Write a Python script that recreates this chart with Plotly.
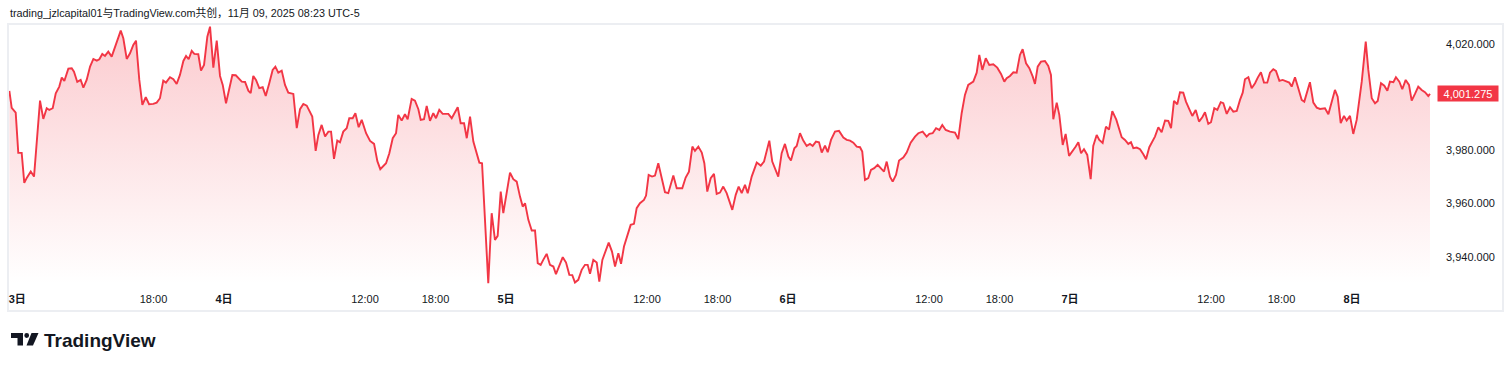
import plotly.graph_objects as go

# ---------------- data (hours since 2025-11-03 00:00 UTC-5, price) ----------------
hours = [
    5.73, 5.93, 6.27, 6.49, 6.78, 7.00, 7.21, 7.55, 7.83, 8.11,
    8.34, 8.62, 8.91, 9.13, 9.42, 9.68, 9.98, 10.19, 10.41, 10.75,
    11.04, 11.23, 11.51, 11.80, 12.03, 12.31, 12.60, 12.88, 13.17, 13.39,
    13.64, 13.87, 14.15, 14.44, 14.72, 15.00, 15.21, 15.43, 15.72, 16.00,
    16.28, 16.51, 16.79, 17.05, 17.34, 17.62, 17.98, 18.27, 18.55, 18.83,
    19.06, 19.40, 19.69, 19.97, 20.25, 20.54, 20.77, 20.99, 21.25, 21.47,
    21.81, 22.04, 22.30, 22.58, 22.81, 23.09, 23.38, 23.66, 23.89, 24.17,
    24.45, 24.71, 25.00, 25.22, 25.51, 25.79, 26.07, 26.27, 26.49, 26.72,
    27.00, 27.29, 27.55, 27.85, 28.14, 28.37, 28.62, 28.91, 29.19, 29.47,
    29.90, 30.19, 30.47, 30.75, 31.04, 31.51, 31.80, 32.03, 32.31, 32.60,
    32.88, 33.11, 33.36, 33.64, 33.87, 34.15, 34.44, 34.66, 34.95, 35.18,
    35.46, 35.72, 36.09, 36.43, 36.77, 37.05, 37.30,
    37.79, 38.07, 38.36,
    38.64, 38.83, 39.12, 39.40, 39.63, 39.97, 40.25, 40.54, 40.74, 41.02,
    41.25, 41.53, 41.81, 42.04, 42.32, 42.61, 43.09, 43.38, 43.60, 43.89,
    44.14, 44.43, 44.66, 44.94, 45.22, 45.51, 45.73, 45.96, 46.49, 46.78,
    47.06, 47.29, 47.55, 47.77, 48.06, 48.34, 48.62, 48.91, 49.19, 49.42,
    49.62, 49.90, 50.19, 50.47, 50.70, 50.95, 51.17, 51.46, 51.74, 52.03,
    52.25, 52.54, 52.83, 53.11, 53.39, 53.64, 53.87, 54.15, 54.44, 54.72,
    54.95, 55.15, 55.43, 55.72, 55.94, 56.20, 56.51, 56.74, 57.02, 57.28,
    57.56, 57.79, 58.04, 58.32, 58.61, 58.89, 59.12, 59.40, 59.74, 59.92,
    60.14, 60.43, 60.68, 60.96, 61.25, 61.53, 61.81, 62.24, 62.53, 63.00,
    63.29, 63.57, 63.86, 64.08, 64.37, 64.66, 64.88, 65.13, 65.42, 65.70,
    65.93, 66.21, 66.49, 66.78, 67.26, 67.55, 67.80, 68.06, 68.34, 68.57,
    68.91, 69.34, 69.68, 69.96, 70.41, 70.66, 71.17, 71.46, 71.74, 72.03,
    72.25, 72.54, 72.74, 73.02, 73.30, 73.59, 73.87, 74.10, 74.38, 74.64,
    74.87, 75.15, 75.38, 75.66, 76.00, 76.34, 76.71, 77.00, 77.28, 77.56,
    77.85, 78.13, 78.32, 78.55, 78.83, 79.06, 79.34, 79.63, 79.97, 80.17,
    80.40, 80.68, 80.91, 81.19, 81.45, 81.81, 82.10, 82.44, 82.81, 83.09,
    83.46, 83.80, 84.03, 84.31, 84.60, 84.88, 85.13, 85.42, 85.79, 86.21,
    86.49, 86.78, 87.06, 87.34, 87.77, 88.06, 88.28, 88.54, 88.83, 89.13,
    89.47, 89.81, 90.13, 90.41, 90.61, 90.89, 91.18, 91.46, 91.74, 91.97,
    92.26, 92.54, 92.83, 93.02, 93.25, 93.53, 93.87, 94.15, 94.38, 94.58,
    94.87, 95.09, 95.38, 95.63, 95.92, 96.20, 96.49, 96.71, 96.94, 97.19,
    97.47, 97.76, 97.98, 98.27, 98.49, 98.78, 99.06, 99.32, 99.60, 99.94,
    100.40, 100.68, 100.96, 101.19, 101.39, 101.68, 101.96, 102.24, 102.47, 102.75,
    103.04, 103.23, 103.52, 103.80, 104.09, 104.37, 104.60, 104.85, 105.13, 105.36,
    105.64, 105.87, 106.15, 106.41, 106.70, 106.98, 107.26, 107.49, 107.77, 108.00,
    108.28, 108.54, 108.83, 109.05, 109.34, 109.62, 109.90, 110.19, 110.47, 110.70,
    110.89, 111.18, 111.46, 111.75, 111.98, 112.25, 112.51, 112.79, 113.02, 113.30,
    113.53, 113.82, 114.10, 114.38, 114.66, 114.87, 115.15, 115.43, 115.72, 115.94,
    116.20, 116.42, 116.71, 117.00, 117.28, 117.70, 117.99, 118.27, 118.55, 118.78,
    119.04, 119.32, 119.55, 119.83, 120.11, 120.40, 120.83, 121.17, 121.39, 121.68,
    121.96, 122.19, 122.47, 122.75, 123.01, 123.23, 123.52, 123.74, 124.03, 124.28,
    124.57, 124.85, 125.08, 125.36, 125.64, 125.93, 126.21, 126.49, 126.64,
]

prices = [
    4002.35, 3995.97, 3994.2, 3979.06, 3979.06, 3967.8, 3969.67, 3972.04, 3970.16, 3987.7,
    3998.71, 3991.83, 3995.85, 3995.21, 3995.85, 4001.49, 4003.97, 4007.35, 4006.11, 4010.73,
    4010.88, 4009.6, 4005.73, 4006.48, 4003.59, 4006.48, 4011.48, 4014.37, 4013.73, 4014.26,
    4016.25, 4015.5, 4017.11, 4015.23, 4018.99, 4022.75, 4025.0, 4022.14, 4014.37, 4016.51,
    4019.63, 4021.24, 4006.48, 3997.09, 3999.98, 3997.35, 3997.47, 3997.96, 3999.61, 4006.22,
    4005.47, 4007.5, 4006.74, 4004.98, 4008.36, 4013.62, 4015.5, 4014.26, 4017.37, 4016.25,
    4016.13, 4009.98, 4012.12, 4022.75, 4026.5, 4011.1, 4021.24, 4007.98, 4004.6, 3997.73,
    4003.97, 4008.36, 4008.25, 4007.12, 4005.84, 4005.73, 4002.46, 4001.49, 4007.98, 4006.48,
    4003.37, 4003.74, 4000.47, 4005.24, 4010.24, 4011.48, 4009.22, 4009.98, 4004.6, 4001.71,
    4001.22, 3988.34, 3995.48, 3997.47, 3996.83, 3992.7, 3979.81, 3985.82, 3989.58, 3985.19,
    3987.06, 3987.06, 3976.81, 3983.68, 3983.08, 3987.06, 3988.34, 3992.1, 3992.1, 3993.97,
    3988.72, 3991.46, 3986.46, 3983.57, 3982.44, 3975.95, 3972.94,
    3975.19, 3978.95, 3984.58,
    3986.46, 3993.34, 3991.2, 3993.6, 3991.72, 3999.35, 3998.71, 3995.48, 3991.46, 3991.72,
    3996.72, 3991.08, 3993.97, 3992.1, 3995.21, 3993.71, 3993.71, 3992.1, 3993.97, 3996.23,
    3990.22, 3990.22, 3984.58, 3992.7, 3983.31, 3978.95, 3975.42, 3975.19, 3930.12, 3956.41,
    3946.39, 3947.89, 3964.53, 3956.41, 3963.93, 3971.66, 3969.18, 3968.28, 3962.65, 3958.89,
    3960.17, 3953.9, 3949.88, 3949.88, 3937.63, 3937.0, 3938.87, 3941.13, 3937.0, 3936.36,
    3933.5, 3936.62, 3939.89, 3937.86, 3933.24, 3933.13, 3930.35, 3931.36, 3935.12, 3937.0,
    3937.0, 3933.62, 3938.87, 3937.86, 3930.72, 3938.87, 3942.89, 3945.37, 3941.99, 3936.36,
    3941.39, 3937.37, 3943.87, 3947.63, 3952.02, 3952.4, 3958.29, 3960.17, 3961.41, 3963.03,
    3970.8, 3970.16, 3970.54, 3975.19, 3969.18, 3964.3, 3963.93, 3970.54, 3965.8, 3965.8,
    3969.79, 3972.04, 3981.43, 3979.81, 3981.43, 3979.18, 3975.19, 3964.53, 3969.56, 3971.18,
    3963.66, 3964.15, 3966.41, 3963.93, 3957.65, 3963.29, 3966.41, 3963.93, 3967.04, 3963.93,
    3970.16, 3975.42, 3974.29, 3975.8, 3983.68, 3975.8, 3970.16, 3978.95, 3982.44, 3977.67,
    3976.17, 3980.83, 3981.69, 3986.46, 3983.68, 3981.69, 3982.44, 3981.69, 3983.31, 3983.08,
    3979.18, 3981.8, 3979.33, 3983.95, 3987.06, 3987.33, 3984.81, 3983.95, 3983.68, 3982.93,
    3981.43, 3981.2, 3979.55, 3968.92, 3969.56, 3972.68, 3973.32, 3974.56, 3972.94, 3972.04,
    3975.8, 3970.16, 3968.28, 3970.8, 3976.17, 3977.3, 3979.18, 3982.93, 3985.19, 3986.46,
    3987.06, 3985.19, 3986.2, 3986.46, 3988.34, 3987.7, 3989.58, 3987.7, 3987.06, 3986.69,
    3984.21, 3993.97, 4000.85, 4004.6, 4005.84, 4009.22, 4015.87, 4010.24, 4014.63, 4012.12,
    4012.38, 4011.1, 4008.74, 4005.84, 4007.12, 4007.98, 4009.37, 4009.22, 4015.87, 4018.01,
    4012.75, 4010.88, 4007.72, 4004.98, 4011.48, 4013.36, 4013.62, 4011.74, 4008.36, 3991.72,
    3997.96, 3993.34, 3982.07, 3986.2, 3977.94, 3979.55, 3981.43, 3983.08, 3978.95, 3980.45,
    3978.31, 3969.18, 3981.69, 3985.82, 3983.95, 3982.82, 3988.94, 3987.81, 3994.73, 3991.57,
    3984.96, 3983.95, 3982.44, 3983.08, 3980.83, 3981.05, 3980.45, 3978.58, 3976.7, 3981.2,
    3983.68, 3985.19, 3988.72, 3986.84, 3991.2, 3991.08, 3988.34, 3998.59, 3997.35, 4001.86,
    4001.71, 3998.33, 3995.48, 3992.96, 3995.21, 3990.82, 3992.47, 3994.35, 3989.96, 3990.59,
    3995.85, 3995.21, 3998.11, 3997.73, 3993.71, 3996.23, 3994.58, 3994.84, 3998.97, 4001.71,
    4006.74, 4007.5, 4003.36, 4005.24, 4007.35, 4009.37, 4005.47, 4005.47, 4009.22, 4010.5,
    4009.86, 4006.11, 4006.48, 4005.84, 4005.47, 4003.97, 4007.5, 4003.36, 3998.97, 3998.33,
    4002.73, 4005.62, 3997.96, 3996.08, 3995.59, 3995.85, 3993.6, 3998.33, 4002.73, 4000.21,
    3990.22, 3992.96, 3991.2, 3992.96, 3986.2, 3991.46, 4005.84, 4020.87, 4010.24, 3999.61,
    3997.73, 3998.59, 4005.24, 4004.34, 4002.46, 4005.84, 4005.62, 4007.5, 4005.84, 4002.99,
    4006.48, 4004.6, 3998.71, 4001.22, 4003.97, 4002.73, 4001.86, 4000.47, 4001.275,
]
assert len(hours) == len(prices)

last_price = 4001.275
x_tick_vals = [6.4, 18, 24, 36, 42, 48, 60, 66, 72, 84, 90, 96, 108, 114, 120]
x_tick_text = ["<b>3日</b>", "18:00", "<b>4日</b>", "12:00", "18:00", "<b>5日</b>", "12:00", "18:00",
               "<b>6日</b>", "12:00", "18:00", "<b>7日</b>", "12:00", "18:00", "<b>8日</b>"]
y_tick_vals = [3940, 3960, 3980, 4020]
title_text = "trading_jzlcapital01与TradingView.com共创，11月 09, 2025 08:23 UTC-5"

# ---------------- layout constants ----------------
W, H = 1512, 366
ML, MR, MT, MB = 9, 76, 24, 82
PW, PH = W - ML - MR, H - MT - MB
RED = "#f23645"
TXT = "#131722"
FONT = "Liberation Sans, Arial, Noto Sans CJK SC, sans-serif"
Y0, Y1 = 3929.8, 4027.5


def fx(px):
    return (px - ML) / PW


def fy(py):
    return (H - MB - py) / PH


fig = go.Figure()
fig.add_trace(go.Scatter(
    x=hours, y=prices, mode="lines",
    line=dict(color=RED, width=1.9),
    fill="tozeroy",
    fillgradient=dict(type="vertical", start=Y0, stop=4026.0,
                      colorscale=[[0, "rgba(242,54,69,0.0)"], [1, "rgba(242,54,69,0.26)"]]),
    hoverinfo="skip", showlegend=False,
))

shapes = [
    # pane border
    dict(type="rect", xref="paper", yref="paper", x0=fx(8), x1=fx(1503), y0=fy(311), y1=fy(24),
         line=dict(color="#eceef2", width=2), fillcolor="rgba(0,0,0,0)", layer="below"),
]


def path_from(points):
    return "M " + " L ".join(f"{fx(a):.5f},{fy(b):.5f}" for a, b in points) + " Z"


logo_col = "#131722"
shapes.append(dict(type="path", xref="paper", yref="paper",
                   path=path_from([(11, 333), (23, 333), (23, 345.5), (17.5, 345.5), (17.5, 338), (11, 338)]),
                   fillcolor=logo_col, line=dict(width=0)))
shapes.append(dict(type="circle", xref="paper", yref="paper",
                   x0=fx(24.3), x1=fx(29.1), y0=fy(337.9), y1=fy(333.1),
                   fillcolor=logo_col, line=dict(width=0)))
shapes.append(dict(type="path", xref="paper", yref="paper",
                   path=path_from([(31.5, 333), (38.5, 333), (33, 345.5), (26.5, 345.5)]),
                   fillcolor=logo_col, line=dict(width=0)))

annotations = [
    dict(xref="paper", yref="y", x=1, xshift=1, y=last_price, xanchor="left", yanchor="middle",
         text=f"{last_price:,.3f}", showarrow=False, bgcolor=RED,
         font=dict(family=FONT, size=11, color="white"),
         width=58, height=13, borderpad=1, align="center"),
    dict(xref="paper", yref="paper", x=fx(42), y=fy(340), xanchor="left", yanchor="middle",
         text="<b>TradingView</b>", showarrow=False,
         font=dict(family="Liberation Sans, Arial, sans-serif", size=19, color=logo_col)),
]

fig.update_layout(
    width=W, height=H,
    margin=dict(l=ML, r=MR, t=MT, b=MB),
    paper_bgcolor="white", plot_bgcolor="white",
    title=dict(text=title_text, x=10 / W, xanchor="left", xref="container",
               y=1 - 13 / H, yanchor="middle", yref="container",
               font=dict(family=FONT, size=10.8, color=TXT)),
    xaxis=dict(range=[5.70, 127.15], tickvals=x_tick_vals, ticktext=x_tick_text,
               showgrid=False, zeroline=False, showline=False, ticks="",
               tickfont=dict(family=FONT, size=11, color=TXT), ticklabelstandoff=7,
               fixedrange=True),
    yaxis=dict(range=[Y0, Y1], side="right", tickvals=y_tick_vals, tickformat=",.3f",
               showgrid=False, zeroline=False, showline=False, ticks="",
               tickfont=dict(family=FONT, size=11, color=TXT), ticklabelstandoff=9,
               fixedrange=True),
    shapes=shapes,
    annotations=annotations,
)

fig.write_html("out.html")
